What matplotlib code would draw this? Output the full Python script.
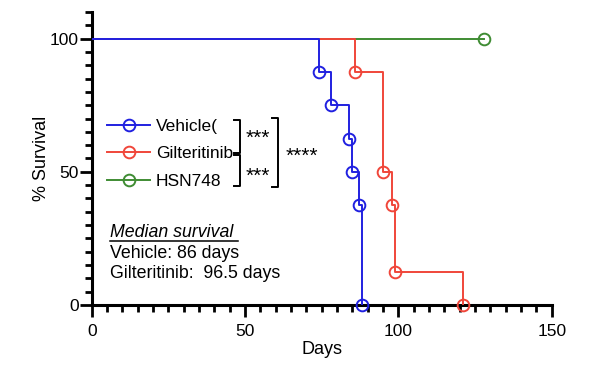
import numpy as np
import matplotlib
matplotlib.use('Agg')
import matplotlib.pyplot as plt

plt.rcParams['font.family'] = ['Liberation Sans', 'DejaVu Sans']

# survival data (days, % survival)
veh_t = [0, 74, 78, 84, 85, 87, 88]
veh_s = [100, 87.5, 75, 62.5, 50, 37.5, 0]
gil_t = [0, 86, 95, 98, 99, 121]
gil_s = [100, 87.5, 50, 37.5, 12.5, 0]
hsn_t = [0, 128]
hsn_s = [100, 100]

labels = ['Vehicle(', 'Gilteritinib', 'HSN748']
colors = ['#2020e0', '#f0463a', '#3f8c33']
median_lines = ['Vehicle: 86 days', 'Gilteritinib:  96.5 days']

fig = plt.figure(figsize=(5.91, 3.68), dpi=100)
ax = fig.add_axes([0.1552, 0.1712, 0.7783, 0.7962])

series = [(veh_t, veh_s), (gil_t, gil_s), (hsn_t, hsn_s)]
zs = [5, 4, 3]
handles = []
for (t, s), lab, c, z in zip(series, labels, colors, zs):
    ax.step(t, s, where='post', color=c, lw=1.4, zorder=z)
    ax.plot(t[1:], s[1:], 'o', ms=8.4, mfc='none', mec=c, mew=1.4,
            zorder=z, clip_on=False)
    handles.append(ax.plot([], [], '-o', color=c, lw=1.4, ms=8.4, mfc='none',
                           mec=c, mew=1.4)[0])

ax.set_xlim(0, 150)
ax.set_ylim(0, 110)
ax.set_xticks([0, 50, 100, 150])
ax.set_xticks(np.arange(0, 151, 5), minor=True)
ax.set_yticks([0, 50, 100])
ax.set_yticks(np.arange(0, 111, 5), minor=True)
for sp in ['top', 'right']:
    ax.spines[sp].set_visible(False)
for sp in ['left', 'bottom']:
    ax.spines[sp].set_linewidth(2.2)
ax.tick_params(which='major', length=8.5, width=2, labelsize=12.5)
ax.tick_params(which='minor', length=5, width=2)
ax.tick_params(axis='x', which='major', pad=5.5)
ax.tick_params(axis='y', which='major', pad=1)
ax.set_xlabel('Days', fontsize=13, labelpad=1)
ax.set_ylabel('% Survival', fontsize=13, labelpad=0)

leg = ax.legend(handles, labels, loc='upper left', bbox_to_anchor=(5.0, 70.0),
                bbox_transform=ax.transData, frameon=False, fontsize=12.5,
                handlelength=2.5, handletextpad=0.3, labelspacing=0.72,
                borderpad=0, borderaxespad=0, numpoints=1)

# significance brackets
bk = dict(color='black', lw=1.4, clip_on=False)
ax.plot([46.4, 48.4, 48.4, 46.4], [69.5, 69.5, 57.2, 57.2], **bk)
ax.plot([46.4, 48.4, 48.4, 46.4], [56.4, 56.4, 44.5, 44.5], **bk)
ax.plot([58.8, 60.7, 60.7, 58.8], [70.3, 70.3, 44.4, 44.4], **bk)
ax.text(54.0, 62.5, '***', fontsize=15, ha='center', va='center')
ax.text(54.0, 48.3, '***', fontsize=15, ha='center', va='center')
ax.text(68.5, 56.0, '****', fontsize=15, ha='center', va='center')

# median survival text
ax.text(5.9, 27.2, 'Median survival', fontsize=12.8, style='italic',
        ha='left', va='center')
ax.plot([5.9, 47.7], [24.2, 24.2], color='black', lw=1.1)
ax.text(5.9, 19.4, median_lines[0], fontsize=12.8, ha='left', va='center')
ax.text(5.9, 11.7, median_lines[1], fontsize=12.8, ha='left', va='center')

fig.savefig('out.png', dpi=100)
